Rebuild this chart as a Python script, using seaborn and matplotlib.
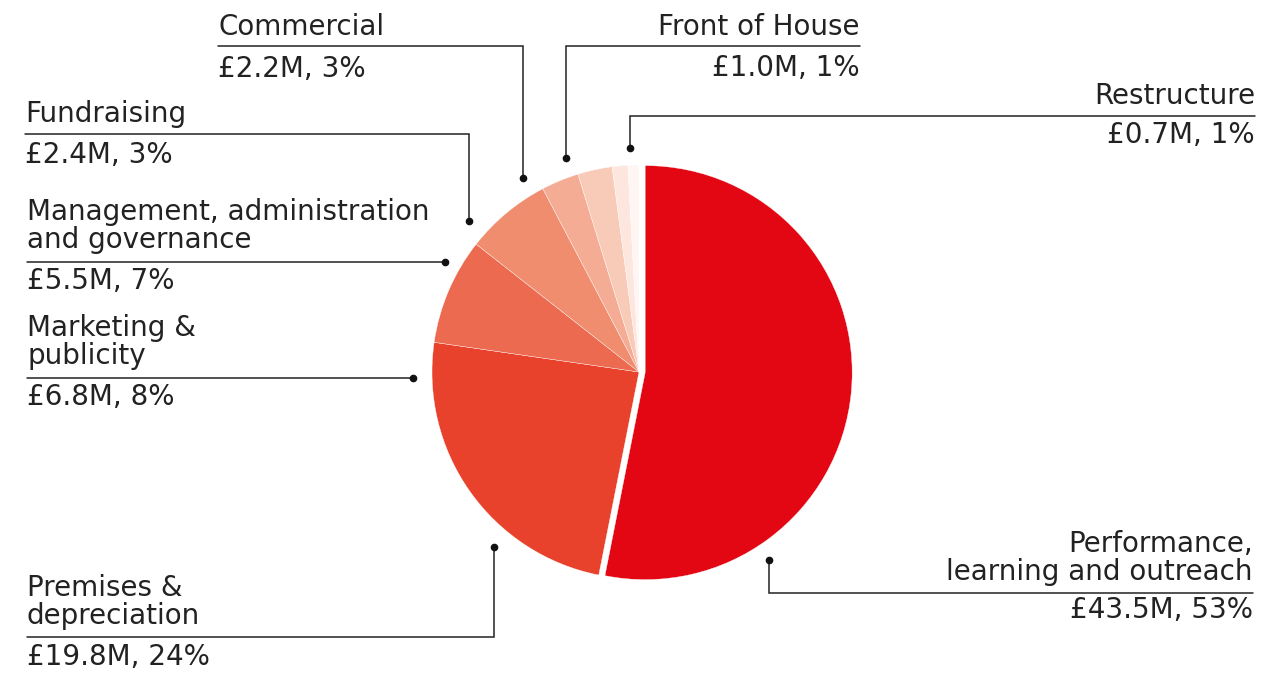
import matplotlib
matplotlib.use("Agg")
import matplotlib.pyplot as plt
import seaborn as sns

sns.set_theme(style="white")
plt.rcParams['font.family'] = ['DejaVu Sans']

# ---- data ----
categories = ["Performance,\nlearning and outreach", "Premises &\ndepreciation", "Marketing &\npublicity",
              "Management, administration\nand governance", "Fundraising", "Commercial",
              "Front of House", "Restructure"]
values_m = [43.5, 19.8, 6.8, 5.5, 2.4, 2.2, 1.0, 0.7]
percents = [53, 24, 8, 7, 3, 3, 1, 1]
value_labels = [f"£{v:.1f}M, {p}%" for v, p in zip(values_m, percents)]
colors = ["#E30613", "#E8412C", "#EC6A4F", "#F08D6F", "#F4AD94", "#F8CBB9", "#FCE6DE", "#FFF6F3"]
explode = [0.03, 0, 0, 0, 0, 0, 0, 0]

W, H = 1278, 673
fig = plt.figure(figsize=(W / 100, H / 100), dpi=100)

# pie axes
cx, cy, r = 639, 372, 207
axp = fig.add_axes([(cx - r) / W, (H - cy - r) / H, 2 * r / W, 2 * r / H])
axp.pie(values_m, colors=colors, startangle=90, counterclock=False, explode=explode,
        wedgeprops=dict(edgecolor="white", linewidth=0.25))
axp.set_xlim(-1, 1)
axp.set_ylim(-1, 1)
axp.set_aspect("auto")
axp.axis("off")

# overlay axes in pixel coords (y from top)
ax = fig.add_axes([0, 0, 1, 1], facecolor="none")
ax.set_xlim(0, W)
ax.set_ylim(H, 0)
ax.axis("off")

fs = 20
lc = "#222222"
tc = "#222222"

layout = [
    # Performance
    dict(x=1253, ha="right", ny=558, vy=610, seg=[(1253, 593), (769, 593), (769, 560)]),
    # Premises
    dict(x=27, ha="left", ny=602, vy=657, seg=[(27, 637), (494, 637), (494, 547)]),
    # Marketing
    dict(x=27, ha="left", ny=342, vy=397, seg=[(27, 378), (413, 378)]),
    # Management
    dict(x=27, ha="left", ny=226, vy=281, seg=[(27, 262), (445, 262)]),
    # Fundraising
    dict(x=25, ha="left", ny=114, vy=155, seg=[(25, 134), (469, 134), (469, 221)]),
    # Commercial
    dict(x=218, ha="left", ny=27, vy=69, seg=[(218, 46), (523, 46), (523, 178)]),
    # Front of House
    dict(x=860, ha="right", ny=27, vy=68, seg=[(860, 46), (566, 46), (566, 158)]),
    # Restructure
    dict(x=1255, ha="right", ny=96, vy=135, seg=[(1255, 116), (630, 116), (630, 148)]),
]

for cat, vl, L in zip(categories, value_labels, layout):
    ax.text(L["x"], L["ny"], cat, ha=L["ha"], va="center", fontsize=fs, color=tc,
            linespacing=1.0, multialignment=L["ha"])
    ax.text(L["x"], L["vy"], vl, ha=L["ha"], va="center", fontsize=fs, color=tc)
    xs = [p[0] for p in L["seg"]]
    ys = [p[1] for p in L["seg"]]
    ax.plot(xs, ys, color=lc, lw=1.1, solid_joinstyle="miter")
    ax.plot(xs[-1], ys[-1], "o", color="#111111", ms=4.5)

fig.savefig("out.png", dpi=100, facecolor="white")
